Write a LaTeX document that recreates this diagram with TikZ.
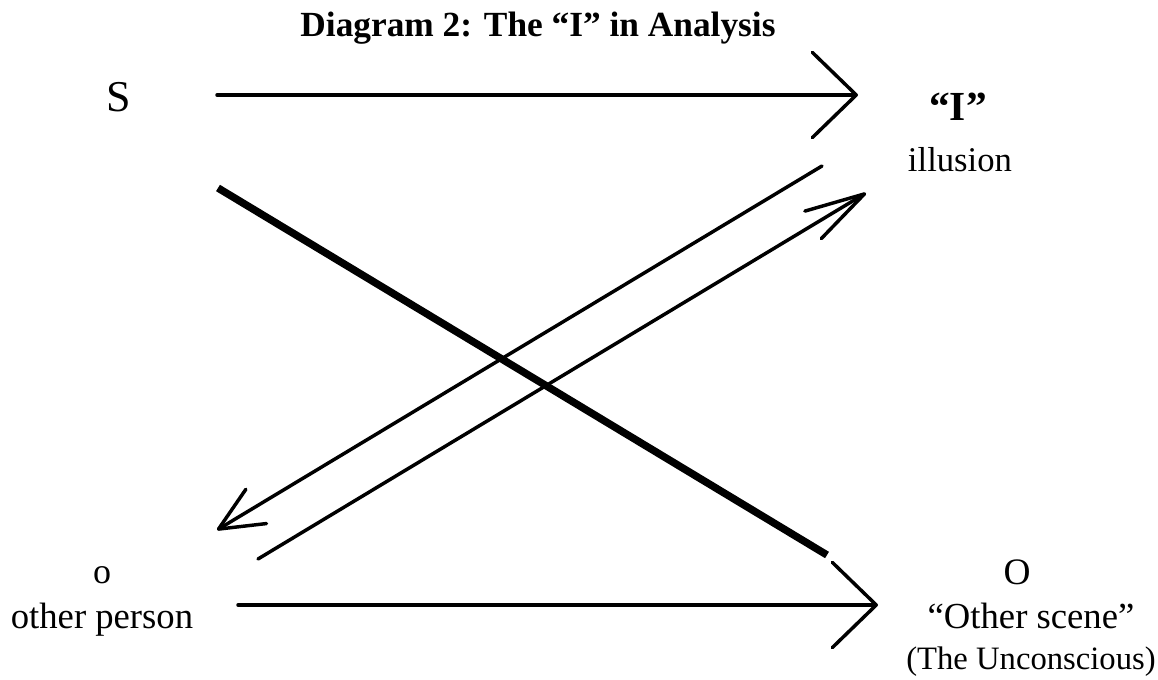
\documentclass[tikz,border=0pt]{standalone}
\usepackage{fontspec}
\setmainfont{Liberation Serif}
\usetikzlibrary{arrows.meta}
\tikzset{
  lbl/.style={inner sep=0.75pt, font=\fontsize{26}{29}\selectfont},
  big/.style={inner sep=0.75pt, font=\fontsize{33}{36}\selectfont},
  link/.style={line width=2.6pt, line cap=round},
  heavy/.style={line width=5.6pt},
  wide head/.style={-{Straight Barb[length=33pt, width=64pt, round]}},
  slim head/.style={-{Straight Barb[length=45pt, width=24pt, round]}},
  short head/.style={-{Straight Barb[length=33pt, width=30pt, round]}}
}
\begin{document}
\begin{tikzpicture}[x=0.75pt,y=0.75pt,yscale=-1,xscale=1]
        \useasboundingbox (0,0) rectangle (1158,680);
        % labels
        \node (title) at (538,28) [inner sep=0.75pt, font=\bfseries\fontsize{26.5}{30}\selectfont] {Diagram 2: The “I” in Analysis};
        \node (S) at (119,97) [big] {S};
        \node (I) at (958,107) [big, font=\bfseries\fontsize{31}{34}\selectfont] {“I”};
        \node (illusion) at (960,160) [lbl] {illusion};
        \node (o) at (102,575) [lbl, font=\fontsize{27}{30}\selectfont] {o};
        \node (person) at (102,620) [lbl, font=\fontsize{27.5}{30}\selectfont] {other person};
        \node (O) at (1017,572) [lbl, font=\fontsize{28}{30}\selectfont] {O};
        \node (scene) at (1031,616) [lbl, font=\fontsize{27.5}{30}\selectfont] {“Other scene”};
        \node (unconscious) at (1031,662) [lbl, font=\fontsize{24.5}{28}\selectfont] {(The Unconscious)};
        % ends of the lines
        \coordinate (s1) at (217,95);
        \coordinate (i1) at (858,95);
        \coordinate (s2) at (218,188);
        \coordinate (O2) at (827,555);
        \coordinate (i3) at (822,166);
        \coordinate (o3) at (217,530);
        \coordinate (o4) at (258,559);
        \coordinate (i4) at (866,193);
        \coordinate (o5) at (238,605);
        \coordinate (O5) at (878,605);
        % arrows
        \draw [link, wide head] (s1) -- (i1);
        \draw [heavy] (s2) -- (O2);
        \draw [link, short head] (i3) -- (o3);
        \draw [link, slim head] (o4) -- (i4);
        \draw [link, wide head] (o5) -- (O5);
\end{tikzpicture}
\end{document}
